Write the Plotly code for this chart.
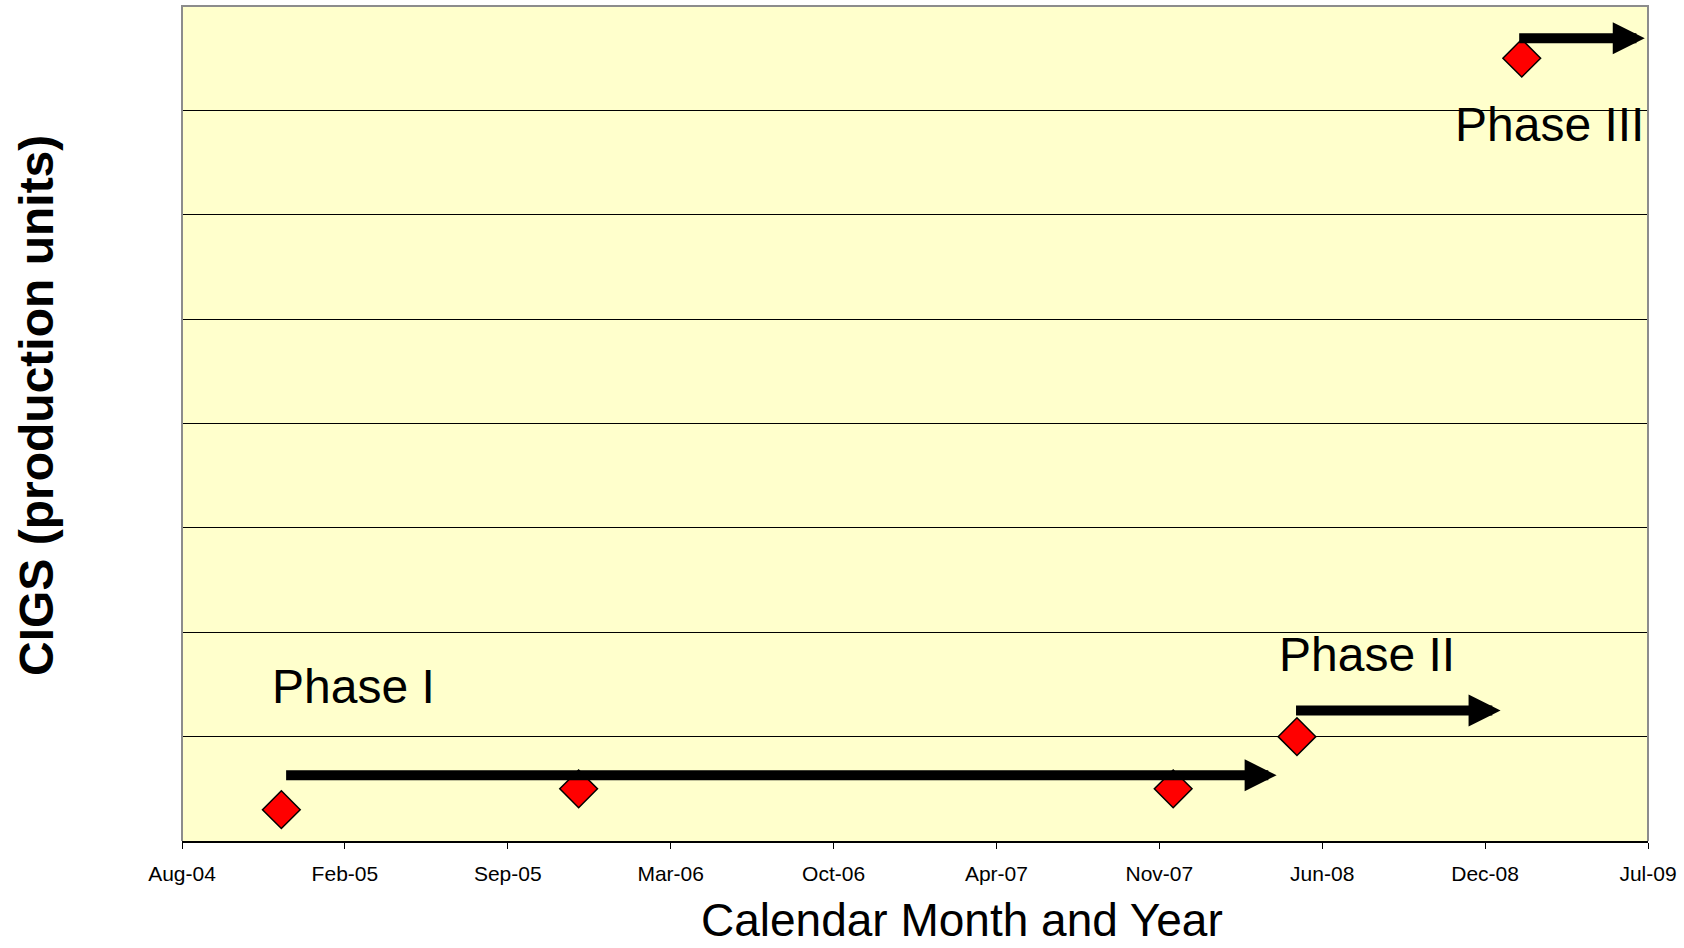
import plotly.graph_objects as go

# Milestones: calendar month vs. CIGS production units
milestone_dates = ["2004-12-01", "2005-12-01", "2007-12-01", "2008-05-01", "2009-02-01"]
milestone_units = [0.3, 0.5, 0.5, 1.0, 7.5]

# Program phases drawn as arrows (start date -> end date at a given level)
phase_names = ["Phase I", "Phase II", "Phase III"]
phase_start = ["2004-12-05", "2008-04-28", "2009-01-27"]
phase_end = ["2008-04-06", "2009-01-06", "2009-07-02"]
phase_level = [0.63, 1.25, 7.69]

# Phase label placement (left edge date, vertical centre)
phase_label_x = ["2004-11-17", "2008-04-07", "2008-11-09"]
phase_label_y = [1.48, 1.79, 6.86]

# Axis definition: ticks every 200 days starting Aug 1, 2004
x_range = ["2004-08-01", "2009-07-06"]
tick_start = "2004-08-01"
tick_step_days = 200
y_range = [0, 8]
y_step = 1

FONT = "Arial, Liberation Sans, sans-serif"

fig = go.Figure()

fig.add_trace(go.Scatter(
    x=milestone_dates,
    y=milestone_units,
    mode="markers",
    marker=dict(symbol="diamond", size=29, color="#FF0000",
                line=dict(color="#000000", width=1.5)),
    showlegend=False,
    hoverinfo="x+y",
))

annotations = []
for name, x0, x1, lvl, lx, ly in zip(phase_names, phase_start, phase_end,
                                     phase_level, phase_label_x, phase_label_y):
    annotations.append(dict(
        x=x1, y=lvl, ax=x0, ay=lvl,
        xref="x", yref="y", axref="x", ayref="y",
        text="", showarrow=True,
        arrowhead=2, arrowsize=0.64, arrowwidth=10, arrowcolor="#000000",
    ))
    annotations.append(dict(
        x=lx, y=ly, xref="x", yref="y",
        text=name, showarrow=False,
        xanchor="left", yanchor="middle",
        font=dict(family=FONT, size=48, color="#000000"),
    ))

# Axis titles
annotations.append(dict(
    x=0.532, y=-0.095, xref="paper", yref="paper",
    text="Calendar Month and Year", showarrow=False,
    xanchor="center", yanchor="middle", borderpad=0,
    font=dict(family=FONT, size=46, color="#000000"),
))
annotations.append(dict(
    x=-0.0997, y=0.522, xref="paper", yref="paper",
    text="CIGS (production units)", showarrow=False, textangle=-90,
    xanchor="center", yanchor="middle",
    font=dict(family=FONT, size=48, color="#000000", weight="bold"),
))

fig.update_layout(
    width=1684, height=948,
    margin=dict(l=182, r=36, t=6, b=107),
    paper_bgcolor="#FFFFFF",
    plot_bgcolor="#FFFFCC",
    annotations=annotations,
    shapes=[dict(
        type="path", xref="paper", yref="paper",
        path="M 0,0 L 0,1 L 1,1 L 1,0",
        line=dict(color="#8C8C8C", width=2), layer="above",
    )],
)

fig.update_xaxes(
    type="date",
    range=x_range,
    tick0=tick_start,
    dtick=tick_step_days * 86400000,
    tickformat="%b-%y",
    ticks="outside", ticklen=6, tickwidth=1, tickcolor="#000000",
    ticklabelstandoff=7,
    showline=True, linecolor="#000000", linewidth=1.5,
    showgrid=False, zeroline=False,
    tickfont=dict(family=FONT, size=21, color="#000000"),
)

fig.update_yaxes(
    range=y_range,
    dtick=y_step,
    showticklabels=False,
    ticks="",
    showgrid=True, gridcolor="#000000", gridwidth=1,
    zeroline=False, showline=False,
)

fig.write_html("out.html")
